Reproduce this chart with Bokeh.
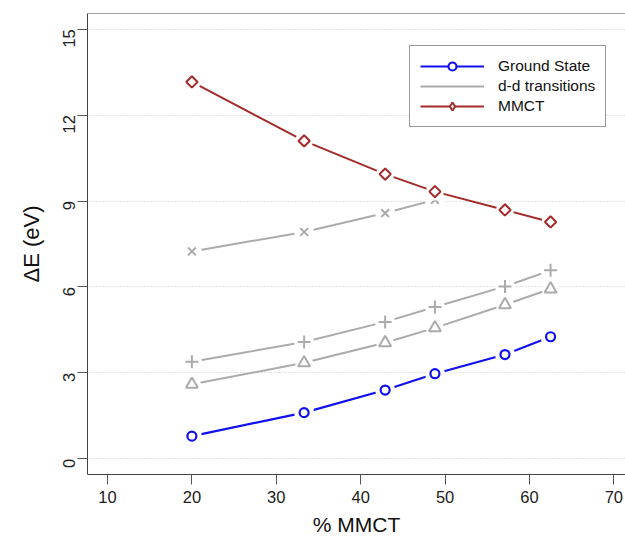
import math
from bokeh.plotting import figure
from bokeh.models import Range1d, FixedTicker, Legend, LegendItem, Span
from bokeh.embed import file_html
from bokeh.resources import INLINE

# ---- data ----
pct = [20.0, 33.3, 42.9, 48.8, 57.1, 62.5]
ground = [0.79, 1.61, 2.40, 2.97, 3.64, 4.26]
dd_plus = [3.39, 4.08, 4.78, 5.30, 6.02, 6.58]
dd_tri = [2.60, 3.35, 4.05, 4.57, 5.38, 5.93]
pct_x = [20.0, 33.3, 42.9, 48.8]
dd_cross = [7.24, 7.92, 8.58, 9.04]
mmct = [13.16, 11.10, 9.94, 9.33, 8.69, 8.27]

x_ticks = [10, 20, 30, 40, 50, 60, 70]
y_ticks = [0, 3, 6, 9, 12, 15]

BLUE = "#1010F0"
GRAY = "#ABABAB"
RED = "#A52A2A"
FONT = "Liberation Sans"

p = figure(width=625, height=542,
           x_range=Range1d(7.63, 71.38), y_range=Range1d(-0.55, 15.55),
           output_backend="svg", toolbar_location=None,
           min_border_left=87, min_border_right=0,
           min_border_top=13, min_border_bottom=68)

p.outline_line_color = None
p.background_fill_color = "white"
p.border_fill_color = "white"

# grid
p.xgrid.visible = False
p.ygrid.ticker = FixedTicker(ticks=y_ticks)
p.ygrid.grid_line_color = "#c8c8c8"
p.ygrid.grid_line_dash = "1 2"
p.ygrid.grid_line_width = 1

# axes
p.xaxis.ticker = FixedTicker(ticks=x_ticks)
p.yaxis.ticker = FixedTicker(ticks=y_ticks)
for ax in (p.xaxis, p.yaxis):
    ax.axis_line_color = "#444444"
    ax.axis_line_width = 1
    ax.major_tick_line_color = "#555555"
    ax.major_tick_in = 0
    ax.major_tick_out = 10
    ax.minor_tick_line_color = None
    ax.major_label_text_font = FONT
    ax.major_label_text_font_size = "16.5px"
    ax.major_label_text_color = "#222222"
    ax.axis_label_text_font = FONT
    ax.axis_label_text_font_style = "normal"
    ax.axis_label_text_color = "#111111"
p.xaxis.axis_label_text_font_size = "21px"
p.yaxis.axis_label_text_font_size = "22px"

p.xaxis.axis_label = "% MMCT"
p.yaxis.axis_label = "\u0394E (eV)"
p.yaxis.major_label_orientation = math.pi / 2
p.xaxis.major_label_standoff = 6
p.xaxis.axis_label_standoff = 7
p.yaxis.major_label_standoff = 8
p.yaxis.axis_label_standoff = 11

# top frame line
p.add_layout(Span(location=15.55, dimension="width", line_color="#444444", line_width=1))

# ---- d-d transitions (gray) ----
l_cross = p.line(pct_x, dd_cross, line_color=GRAY, line_width=2)
p.scatter(pct_x, dd_cross, size=20, marker="circle", fill_color="white", line_color=None)
p.scatter(pct_x, dd_cross, size=11, marker="x", line_color=GRAY, line_width=2)

l_plus = p.line(pct, dd_plus, line_color=GRAY, line_width=2)
p.scatter(pct, dd_plus, size=20, marker="circle", fill_color="white", line_color=None)
p.scatter(pct, dd_plus, size=13, marker="cross", line_color=GRAY, line_width=2)

l_tri = p.line(pct, dd_tri, line_color=GRAY, line_width=2)
p.scatter(pct, dd_tri, size=18, marker="circle", fill_color="white", line_color=None)
p.scatter(pct, dd_tri, size=12, marker="triangle", fill_color="white", line_color=GRAY, line_width=2)

# ---- ground state (blue) ----
l_g = p.line(pct, ground, line_color=BLUE, line_width=2.2)
p.scatter(pct, ground, size=20, marker="circle", fill_color="white", line_color=None)
m_g = p.scatter(pct, ground, size=9, marker="circle", fill_color="white", line_color=BLUE, line_width=2.2)

# ---- MMCT (red) ----
l_m = p.line(pct, mmct, line_color=RED, line_width=2)
p.scatter(pct, mmct, size=18, marker="circle", fill_color="white", line_color=None)
p.scatter(pct, mmct, size=8, marker="square", angle=math.pi / 4,
          fill_color="white", line_color=RED, line_width=2)
# legend glyph for MMCT (hidden in the plot itself)
m_leg = p.scatter(pct, mmct, size=13, marker="diamond",
                  fill_color="white", line_color=RED, line_width=2, visible=False)

legend = Legend(items=[
    LegendItem(label="Ground State", renderers=[l_g, m_g]),
    LegendItem(label="d-d transitions", renderers=[l_tri]),
    LegendItem(label="MMCT", renderers=[l_m, m_leg]),
], location=(322, 347))
legend.padding = 10
legend.spacing = 0
legend.margin = 0
legend.glyph_width = 64
legend.glyph_height = 20
legend.label_height = 20
legend.label_standoff = 14
legend.label_text_font = FONT
legend.label_text_font_size = "15.5px"
legend.label_text_color = "#111111"
legend.border_line_color = "#333333"
legend.border_line_width = 1
legend.background_fill_color = "white"
legend.background_fill_alpha = 1.0
legend.inactive_fill_alpha = 0.0
p.add_layout(legend, "center")

open("out.html", "w").write(file_html(p, INLINE))
